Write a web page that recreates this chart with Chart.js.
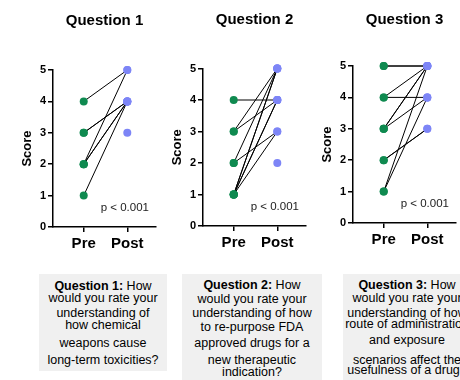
<!DOCTYPE html>
<html>
<head>
<meta charset="utf-8">
<script src="https://cdn.jsdelivr.net/npm/chart.js@4/dist/chart.umd.min.js"></script>
<style>
  body { margin: 0; width: 460px; height: 380px; overflow: hidden; background: #fff; position: relative;
         font-family: "Liberation Sans", Arial, sans-serif; }
  .panel { position: absolute; }
  .qbox { position: absolute; top: 274px; background: #f0f0f0; color: #000; font-size: 12.5px; overflow: hidden; }
  .qbox div { position: absolute; left: 0; right: 0; text-align: center; line-height: 14px; white-space: nowrap; }
</style>
</head>
<body>
<canvas id="q1" class="panel" width="160" height="262"></canvas>
<canvas id="q2" class="panel" width="160" height="262"></canvas>
<canvas id="q3" class="panel" width="160" height="262"></canvas>

<div class="qbox" style="left:39px; width:128px; height:97px;">
  <div style="top:5px"><b>Question 1:</b> How</div>
  <div style="top:17px">would you rate your</div>
  <div style="top:32px">understanding of</div>
  <div style="top:44px">how chemical</div>
  <div style="top:62px">weapons cause</div>
  <div style="top:79px">long-term toxicities?</div>
</div>
<div class="qbox" style="left:182px; width:140px; height:106px;">
  <div style="top:4px"><b>Question 2:</b> How</div>
  <div style="top:18px">would you rate your</div>
  <div style="top:32px">understanding of how</div>
  <div style="top:46px">to re-purpose FDA</div>
  <div style="top:62px">approved drugs for a</div>
  <div style="top:79px">new therapeutic</div>
  <div style="top:91px">indication?</div>
</div>
<div class="qbox" style="left:343px; width:128px; height:106px;">
  <div style="top:4px"><b>Question 3:</b> How</div>
  <div style="top:17px">would you rate your</div>
  <div style="top:32px">understanding of how</div>
  <div style="top:43px">route of administration</div>
  <div style="top:59px">and exposure</div>
  <div style="top:79px">scenarios affect the</div>
  <div style="top:89px">usefulness of a drug?</div>
</div>

<script>
const xLabels = ['Pre', 'Post'];
const yTicks = [0, 1, 2, 3, 4, 5];
const titles = ['Question 1', 'Question 2', 'Question 3'];
const pText = 'p < 0.001';

// paired scores, one entry per student (null = no pre answer)
const q1Pre  = [4, 3, 3, 2, 2, 2, 1, null];
const q1Post = [5, 4, 4, 5, 4, 4, 4, 3];
const q2Pre  = [4, 3, 3, 2, 2, 1, 1, 1, 1, 1, null];
const q2Post = [4, 5, 4, 5, 3, 5, 5, 4, 4, 3, 2];
const q3Pre  = [5, 5, 4, 4, 3, 3, 3, 2, 2, 1, 1];
const q3Post = [5, 5, 5, 4, 5, 5, 4, 3, 3, 5, 4];

const PRE = '#0f8a50';
const POST = '#7d85f6';
const FONT = '"Liberation Sans", Arial, sans-serif';

// canvas placement and title spacing per panel
const layout = [
  { left: 0,   top: 0,  padTop: 11.5, gap: 40.5 },
  { left: 150, top: -1, padTop: 12,   gap: 39.5 },
  { left: 300, top: -4, padTop: 15,   gap: 37 }
];

Chart.defaults.font.family = FONT;

const pNote = {
  id: 'pNote',
  afterDraw(chart, args, opts) {
    const { ctx, chartArea } = chart;
    ctx.save();
    ctx.font = '11.5px ' + FONT;
    ctx.fillStyle = '#222';
    ctx.textAlign = 'right';
    ctx.textBaseline = 'middle';
    ctx.fillText(opts.text, chartArea.right - 7, chartArea.bottom - 19);
    ctx.restore();
  }
};

function buildDatasets(pre, post) {
  const sets = [];
  // dot sets go first so they are drawn over the lines
  sets.push({
    data: pre.filter(v => v != null).map(v => ({ x: 0, y: v })),
    pointRadius: 4, pointBackgroundColor: PRE, pointBorderWidth: 0, clip: false
  });
  sets.push({
    data: post.filter(v => v != null).map(v => ({ x: 1, y: v })),
    pointRadius: 4, pointBackgroundColor: POST, pointBorderWidth: 0, clip: false
  });
  pre.forEach((v, i) => {
    if (v == null || post[i] == null) return;
    sets.push({
      data: [{ x: 0, y: v }, { x: 1, y: post[i] }],
      showLine: true, borderColor: '#000', borderWidth: 1, pointRadius: 0, clip: false
    });
  });
  return sets;
}

function makePanel(id, idx, pre, post) {
  const L = layout[idx];
  const canvas = document.getElementById(id);
  canvas.style.left = L.left + 'px';
  canvas.style.top = L.top + 'px';
  const axisLine = { color: '#000', width: 1.5 };
  const tickGrid = { drawOnChartArea: false, color: '#000', lineWidth: 1.5, tickLength: 5 };
  return new Chart(canvas, {
    type: 'scatter',
    data: { datasets: buildDatasets(pre, post) },
    options: {
      responsive: false,
      animation: false,
      events: [],
      layout: { padding: { left: 20, right: 3, top: 0, bottom: 6 } },
      plugins: {
        legend: { display: false },
        tooltip: { enabled: false },
        title: {
          display: true, text: titles[idx], fullSize: false, color: '#000',
          font: { size: 15, weight: 'bold' },
          padding: { top: L.padTop, bottom: L.gap }
        },
        pNote: { text: pText }
      },
      scales: {
        x: {
          type: 'linear', min: -0.705, max: 1.659,
          afterBuildTicks: s => { s.ticks = xLabels.map((_, i) => ({ value: i })); },
          ticks: { callback: v => xLabels[v], color: '#000', font: { size: 15, weight: 'bold' }, padding: 3 },
          grid: tickGrid,
          border: axisLine
        },
        y: {
          min: 0, max: 5,
          afterBuildTicks: s => { s.ticks = yTicks.map(v => ({ value: v })); },
          afterFit: s => { s.width = 33; },
          ticks: { color: '#000', font: { size: 11, weight: 'bold' }, padding: 2 },
          title: { display: true, text: 'Score', color: '#000', font: { size: 13, weight: 'bold' }, padding: 0 },
          grid: tickGrid,
          border: axisLine
        }
      }
    },
    plugins: [pNote]
  });
}

makePanel('q1', 0, q1Pre, q1Post);
makePanel('q2', 1, q2Pre, q2Post);
makePanel('q3', 2, q3Pre, q3Post);
</script>
</body>
</html>
